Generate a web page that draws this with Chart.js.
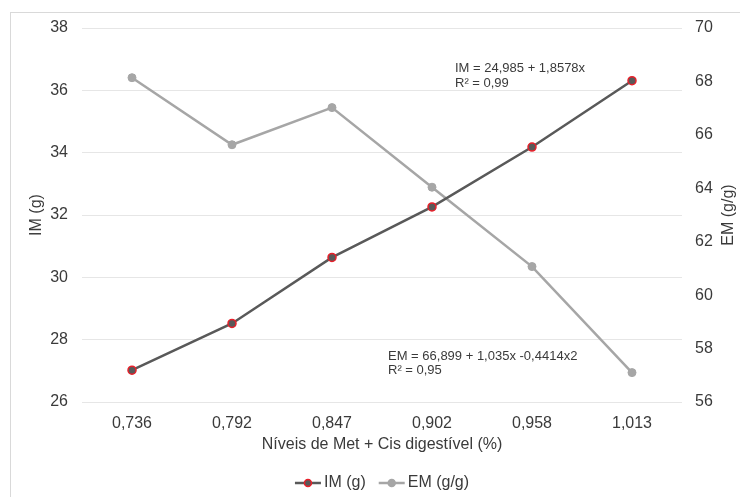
<!DOCTYPE html>
<html>
<head>
<meta charset="utf-8">
<script src="https://cdn.jsdelivr.net/npm/chart.js@4"></script>
<style>
  html, body { margin: 0; padding: 0; background: #fff; }
  #wrap { width: 740px; height: 497px; position: relative; }
</style>
</head>
<body>
<div id="wrap"><canvas id="chart" width="740" height="497"></canvas></div>
<script>
// --- Data ---
const categories = ['0,736', '0,792', '0,847', '0,902', '0,958', '1,013'];
const imValues = [27.02, 28.52, 30.64, 32.26, 34.18, 36.31];
const emValues = [68.14, 65.63, 67.02, 64.04, 61.07, 57.10];
const imLabel = 'IM (g)';
const emLabel = 'EM (g/g)';
const xTitle = 'Níveis de Met + Cis digestível (%)';
const imEquation = ['IM = 24,985 + 1,8578x', 'R² = 0,99'];
const emEquation = ['EM = 66,899 + 1,035x -0,4414x2', 'R² = 0,95'];

const FONT = '"Liberation Sans", Arial, sans-serif';
const TEXT = '#3a3a3a';
const IM_COLOR = '#595959';
const EM_COLOR = '#a6a6a6';

// white background, outer frame, equations, right title and legend
const decorations = {
    id: 'decorations',
    beforeDraw(chart) {
        const ctx = chart.ctx;
        ctx.save();
        ctx.fillStyle = '#fff';
        ctx.fillRect(0, 0, chart.width, chart.height);
        ctx.strokeStyle = '#d9d9d9';
        ctx.lineWidth = 1;
        ctx.strokeRect(10.5, 12.5, chart.width + 20, chart.height + 20);
        ctx.restore();
    },
    afterDraw(chart) {
        const ctx = chart.ctx;
        const area = chart.chartArea;
        ctx.save();
        ctx.fillStyle = TEXT;
        ctx.textBaseline = 'alphabetic';
        ctx.textAlign = 'left';
        ctx.font = '13px ' + FONT;
        ctx.fillText(imEquation[0], 455, 72);
        ctx.fillText(imEquation[1], 455, 87);
        ctx.fillText(emEquation[0], 388, 360);
        ctx.fillText(emEquation[1], 388, 374);

        // right axis title, reading upward
        ctx.font = '16px ' + FONT;
        ctx.save();
        ctx.translate(729, (area.top + area.bottom) / 2);
        ctx.rotate(-Math.PI / 2);
        ctx.textAlign = 'center';
        ctx.textBaseline = 'middle';
        ctx.fillText(emLabel, 0, 0);
        ctx.restore();

        // legend: line with marker, then label
        const items = [
            { text: imLabel, color: IM_COLOR, fill: IM_COLOR, border: '#e8202a' },
            { text: emLabel, color: EM_COLOR, fill: EM_COLOR, border: EM_COLOR }
        ];
        const lineLen = 26, gapText = 3, gapItem = 13, y = 483;
        ctx.font = '16px ' + FONT;
        const widths = items.map(it => lineLen + gapText + ctx.measureText(it.text).width);
        const total = widths.reduce((a, b) => a + b, 0) + gapItem * (items.length - 1);
        let x = (area.left + area.right) / 2 - total / 2;
        items.forEach((it, i) => {
            ctx.strokeStyle = it.color;
            ctx.lineWidth = 2.5;
            ctx.beginPath();
            ctx.moveTo(x, y);
            ctx.lineTo(x + lineLen, y);
            ctx.stroke();
            ctx.beginPath();
            ctx.arc(x + lineLen / 2, y, 3.5, 0, Math.PI * 2);
            ctx.fillStyle = it.fill;
            ctx.fill();
            ctx.strokeStyle = it.border;
            ctx.lineWidth = 1.5;
            ctx.stroke();
            ctx.fillStyle = TEXT;
            ctx.textAlign = 'left';
            ctx.textBaseline = 'middle';
            ctx.fillText(it.text, x + lineLen + gapText, y);
            x += widths[i] + gapItem;
        });
        ctx.restore();
    }
};

const ctx = document.getElementById('chart').getContext('2d');
new Chart(ctx, {
    type: 'line',
    data: {
        labels: categories,
        datasets: [
            {
                label: imLabel,
                data: imValues,
                yAxisID: 'y',
                borderColor: IM_COLOR,
                backgroundColor: IM_COLOR,
                borderWidth: 2.5,
                pointRadius: 4,
                pointBackgroundColor: IM_COLOR,
                pointBorderColor: '#e8202a',
                pointBorderWidth: 1.5,
                tension: 0
            },
            {
                label: emLabel,
                data: emValues,
                yAxisID: 'y1',
                borderColor: EM_COLOR,
                backgroundColor: EM_COLOR,
                borderWidth: 2.5,
                pointRadius: 4,
                pointBackgroundColor: EM_COLOR,
                pointBorderColor: EM_COLOR,
                pointBorderWidth: 1,
                tension: 0
            }
        ]
    },
    options: {
        responsive: false,
        animation: false,
        layout: { padding: { top: 28, bottom: 35, left: 0, right: 0 } },
        plugins: {
            legend: { display: false },
            tooltip: { enabled: false }
        },
        scales: {
            x: {
                offset: true,
                grid: { display: false },
                border: { display: false },
                ticks: { color: TEXT, font: { family: FONT, size: 16 }, padding: 4 },
                title: {
                    display: true, text: xTitle, color: TEXT,
                    font: { family: FONT, size: 16 }, padding: { top: 0, bottom: 8 }
                },
                afterFit: (scale) => { scale.height = 60; }
            },
            y: {
                position: 'left',
                min: 26, max: 38,
                ticks: { stepSize: 2, color: TEXT, font: { family: FONT, size: 16 }, padding: 14 },
                grid: { color: '#e6e6e6', lineWidth: 1, drawTicks: false },
                border: { display: false },
                title: {
                    display: true, text: imLabel, color: TEXT,
                    font: { family: FONT, size: 16 }, padding: { top: 27, bottom: 0 }
                },
                afterFit: (scale) => { scale.width = 82; }
            },
            y1: {
                position: 'right',
                min: 56, max: 70,
                ticks: { stepSize: 2, color: TEXT, font: { family: FONT, size: 16 }, padding: 13 },
                grid: { display: false, drawTicks: false },
                border: { display: false },
                afterFit: (scale) => { scale.width = 58; }
            }
        }
    },
    plugins: [decorations]
});
</script>
</body>
</html>
